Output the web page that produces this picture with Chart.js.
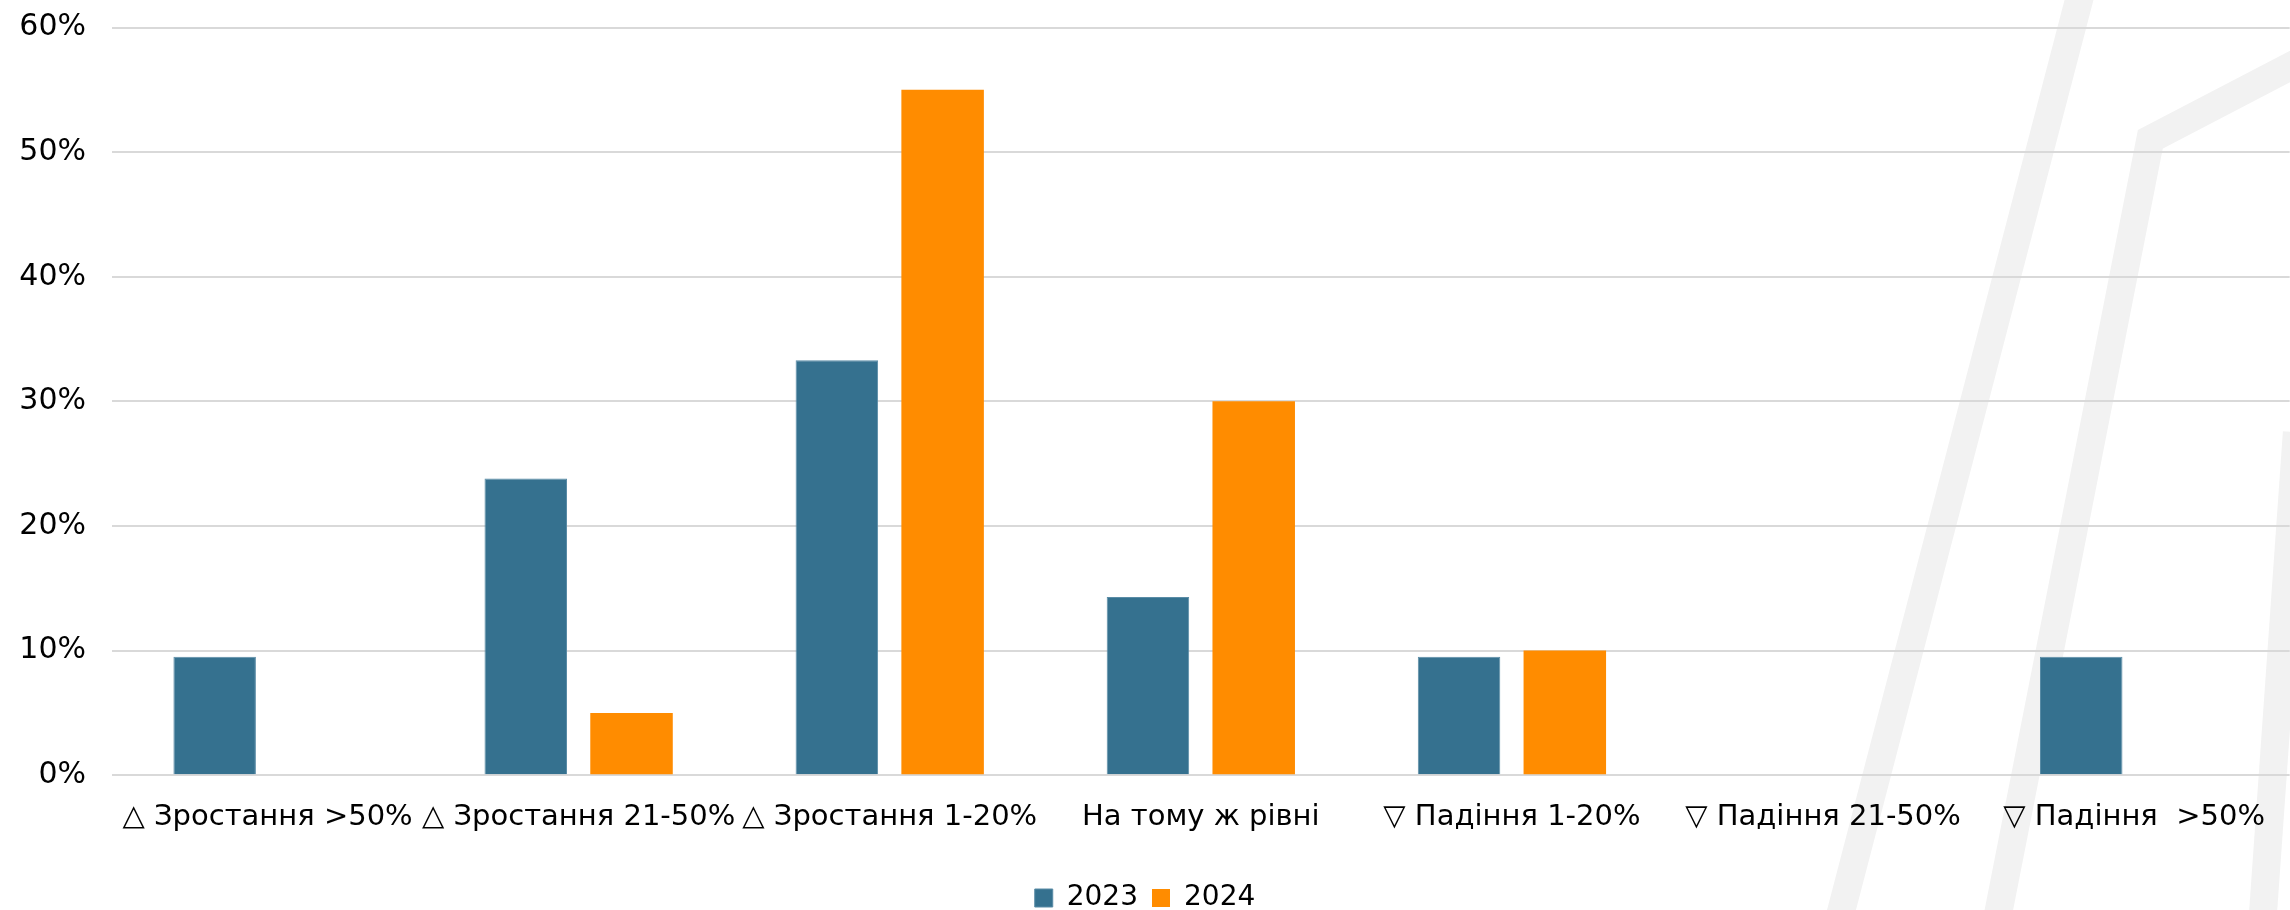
<!DOCTYPE html>
<html>
<head>
<meta charset="utf-8">
<script src="https://cdn.jsdelivr.net/npm/chart.js@4"></script>
<style>
  html, body { margin: 0; padding: 0; background: #fff; }
  #wrap { width: 2290px; height: 910px; }
</style>
</head>
<body>
<div id="wrap"><canvas id="changes"></canvas></div>
<script>
'use strict';

const categories = ["△ Зростання >50%", "△ Зростання 21-50%", "△ Зростання 1-20%", "На тому ж рівні", "▽ Падіння 1-20%", "▽ Падіння 21-50%", "▽ Падіння  >50%"];
const values2023 = [9.5, 23.8, 33.3, 14.3, 9.5, 0, 9.5];
const values2024 = [0, 5, 55, 30, 10, 0, 0];
const yTicks = [0, 10, 20, 30, 40, 50, 60];

// light grey slanted strokes drawn behind the chart
const backdrop = {
  id: 'backdrop',
  beforeDraw(chart) {
    const ctx = chart.ctx;
    const w = chart.width, h = chart.height;
    ctx.save();
    ctx.strokeStyle = '#f2f2f2';
    ctx.lineWidth = 28;
    ctx.lineJoin = 'miter';
    ctx.beginPath();
    ctx.moveTo(w * 0.909, -10);
    ctx.lineTo(w * 0.803, h + 10);
    ctx.stroke();
    ctx.beginPath();
    ctx.moveTo(w * 1.01, h * 0.06);
    ctx.lineTo(w * 0.939, h * 0.153);
    ctx.lineTo(w * 0.872, h + 10);
    ctx.stroke();
    ctx.beginPath();
    ctx.moveTo(w * 1.003, h * 0.475);
    ctx.lineTo(w * 0.988, h + 10);
    ctx.stroke();
    ctx.restore();
  }
};

let ctx = document.getElementById("changes");

let chart = new Chart(ctx, {
  type: 'bar',
  data: {
    labels: categories,
    datasets: [{
      label: "2023",
      data: values2023,
      backgroundColor: "#35718f",
      borderColor: "#5a8ca6",
      borderWidth: 1,
    }, {
      label: "2024",
      data: values2024,
      backgroundColor: "#ff8c00",
      borderWidth: 0,
    }],
  },
  options: {
    responsive: true,
    maintainAspectRatio: false,
    animation: false,
    categoryPercentage: 0.68,
    barPercentage: 0.78,
    layout: {
      padding: { left: 0, right: 0, top: 0, bottom: -12 }
    },
    plugins: {
      legend: {
        position: 'bottom',
        labels: {
          boxWidth: 18,
          boxHeight: 18,
          padding: 14,
          color: '#000',
          font: { family: 'DejaVu Sans', size: 28 }
        }
      },
      tooltip: { enabled: false }
    },
    scales: {
      x: {
        afterFit(axis) {
          axis.height += 10;
        },
        grid: { display: false, drawTicks: false },
        border: { display: false },
        ticks: {
          color: '#000',
          padding: 25,
          autoSkip: false,
          maxRotation: 0,
          font: { family: 'DejaVu Sans', size: 29 }
        }
      },
      y: {
        min: 0,
        max: 60,
        afterFit(axis) {
          axis.width = 112;
        },
        afterBuildTicks(axis) {
          axis.ticks = yTicks.map(v => ({ value: v }));
        },
        grid: { color: '#d9d9d9', lineWidth: 2, drawTicks: false, tickLength: 0 },
        border: { display: false },
        ticks: {
          color: '#000',
          padding: 26,
          font: { family: 'DejaVu Sans', size: 30, lineHeight: 0.1 },
          callback: function (value) {
            return value + '%';
          }
        }
      }
    }
  },
  plugins: [backdrop]
});
</script>
</body>
</html>
